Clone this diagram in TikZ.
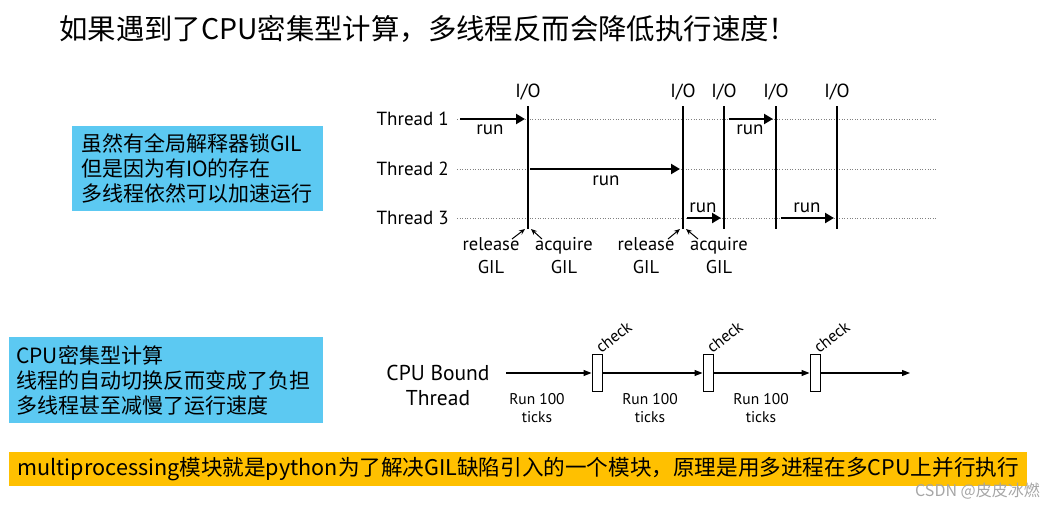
\documentclass[tikz,border=0pt]{standalone}
\usepackage{fontspec}
\newfontfamily\cjk{Noto Sans CJK SC}
\newfontfamily\gill{PT Sans}
\usetikzlibrary{arrows.meta}
\definecolor{skyb}{RGB}{92,201,242}
\definecolor{barY}{RGB}{255,192,0}
\tikzset{
  note/.style={fill=skyb, anchor=north west, align=left, inner ysep=0pt, font=\cjk\fontsize{21}{25}\selectfont},
  lbl/.style={font=\gill\fontsize{19}{21}\selectfont, inner sep=0pt},
  small/.style={font=\gill\fontsize{18.5}{23}\selectfont, inner sep=0pt, align=center},
  ioline/.style={line width=1.6pt},
  guide/.style={gray, dotted, line width=0.6pt},
  runarrow/.style={line width=2.6pt, -{Triangle[length=9pt,width=10pt]}},
  thin/.style={line width=1pt, -{Stealth[length=6pt,width=5pt]}},
  flow/.style={line width=1.1pt, -{Triangle[length=8pt,width=6pt]}},
  chk/.style={draw, line width=0.9pt, minimum width=10pt, minimum height=37pt, inner sep=0pt},
  ticks/.style={font=\gill\fontsize{15.5}{18}\selectfont, inner sep=0pt, align=center},
}
\begin{document}
\begin{tikzpicture}[x=1pt,y=-1pt]
\useasboundingbox (0,0) rectangle (1055,509);
% title
\node[anchor=west, inner sep=0pt, font=\cjk\fontsize{28.4}{32}\selectfont] (title) at (59,29) {如果遇到了CPU密集型计算，多线程反而会降低执行速度！};
% blue notes
\node[note, text width=233pt, inner xsep=9pt, minimum height=85pt] (note1) at (72,126) {虽然有全局解释器锁GIL\\但是因为有IO的存在\\多线程依然可以加速运行};
\node[note, text width=300pt, inner xsep=7pt, minimum height=86pt] (note2) at (9,337) {CPU密集型计算\\线程的自动切换反而变成了负担\\多线程甚至减慢了运行速度};
% yellow bar
\node[fill=barY, minimum width=1018pt, minimum height=34pt, inner sep=0pt, anchor=north west, font=\cjk\fontsize{21.6}{24}\selectfont] (bar) at (9,452) {multiprocessing模块就是python为了解决GIL缺陷引入的一个模块，原理是用多进程在多CPU上并行执行};
\node[anchor=east, inner sep=0pt, text=gray!70, font=\cjk\fontsize{16}{18}\selectfont] (wm) at (1040,491) {CSDN @皮皮冰燃};
% thread labels
\node[lbl, anchor=east] (t1) at (449,119) {Thread 1};
\node[lbl, anchor=east] (t2) at (449,169) {Thread 2};
\node[lbl, anchor=east] (t3) at (449,218) {Thread 3};
\coordinate (t1e) at (936,119);
\coordinate (t2e) at (936,169);
\coordinate (t3e) at (936,218);
\draw[guide] ([xshift=8pt]t1.east) -- (t1e);
\draw[guide] ([xshift=8pt]t2.east) -- (t2e);
\draw[guide] ([xshift=8pt]t3.east) -- (t3e);
% I/O lines
\foreach \n/\x in {a/528,b/683,c/724,d/776,e/837}{
  \node[lbl] (io\n) at (\x,92) {I/O};
  \coordinate (top\n) at (\x,106);
  \coordinate (bot\n) at (\x,229);
  \draw[ioline] (top\n) -- (bot\n);
}
% run arrows
\coordinate (r1s) at (460,119); \coordinate (r1e) at (525,119);
\coordinate (r2s) at (530,169); \coordinate (r2e) at (680,169);
\coordinate (r3s) at (687,218); \coordinate (r3e) at (721,218);
\coordinate (r4s) at (729,119); \coordinate (r4e) at (773,119);
\coordinate (r5s) at (781,218); \coordinate (r5e) at (834,218);
\draw[runarrow] (r1s) -- (r1e);
\draw[runarrow] (r2s) -- (r2e);
\draw[runarrow] (r3s) -- (r3e);
\draw[runarrow] (r4s) -- (r4e);
\draw[runarrow] (r5s) -- (r5e);
\node[lbl] (run1) at (490,130) {run};
\node[lbl] (run2) at (606,181) {run};
\node[lbl] (run3) at (703,208) {run};
\node[lbl] (run4) at (750,130) {run};
\node[lbl] (run5) at (807,208) {run};
% release / acquire
\node[small] (rel1) at (491,256) {release\\GIL};
\node[small] (acq1) at (564,256) {acquire\\GIL};
\node[small] (rel2) at (646,256) {release\\GIL};
\node[small] (acq2) at (719,256) {acquire\\GIL};
\coordinate (ra1) at (512,239); \coordinate (rb1) at (525,229);
\coordinate (aa1) at (542,239); \coordinate (ab1) at (531,229);
\coordinate (ra2) at (668,239); \coordinate (rb2) at (680,229);
\coordinate (aa2) at (698,239); \coordinate (ab2) at (686,229);
\draw[thin] (ra1) -- (rb1);
\draw[thin] (aa1) -- (ab1);
\draw[thin] (ra2) -- (rb2);
\draw[thin] (aa2) -- (ab2);
% CPU bound
\node[lbl, font=\gill\fontsize{21.5}{25}\selectfont, align=center] (cpu) at (438,385) {CPU Bound\\Thread};
\coordinate (fs) at (506,373);
\coordinate (fe) at (910,373);
\node[chk] (c1) at (597,373) {};
\node[chk] (c2) at (708,373) {};
\node[chk] (c3) at (815,373) {};
\draw[flow] (fs) -- (c1.west |- fs);
\draw[flow] (c1.east |- fs) -- (c2.west |- fs);
\draw[flow] (c2.east |- fs) -- (c3.west |- fs);
\draw[flow] (c3.east |- fs) -- (fe);
\foreach \c in {c1,c2,c3}{
  \node[font=\gill\fontsize{16.5}{18}\selectfont, rotate=38, anchor=south west, inner sep=0.5pt] (\c lab) at ([xshift=-1pt,yshift=-1pt]\c.north east) {check};
}
\node[ticks] (k1) at (537,408) {Run 100\\ticks};
\node[ticks] (k2) at (650,408) {Run 100\\ticks};
\node[ticks] (k3) at (761,408) {Run 100\\ticks};
\end{tikzpicture}
\end{document}
